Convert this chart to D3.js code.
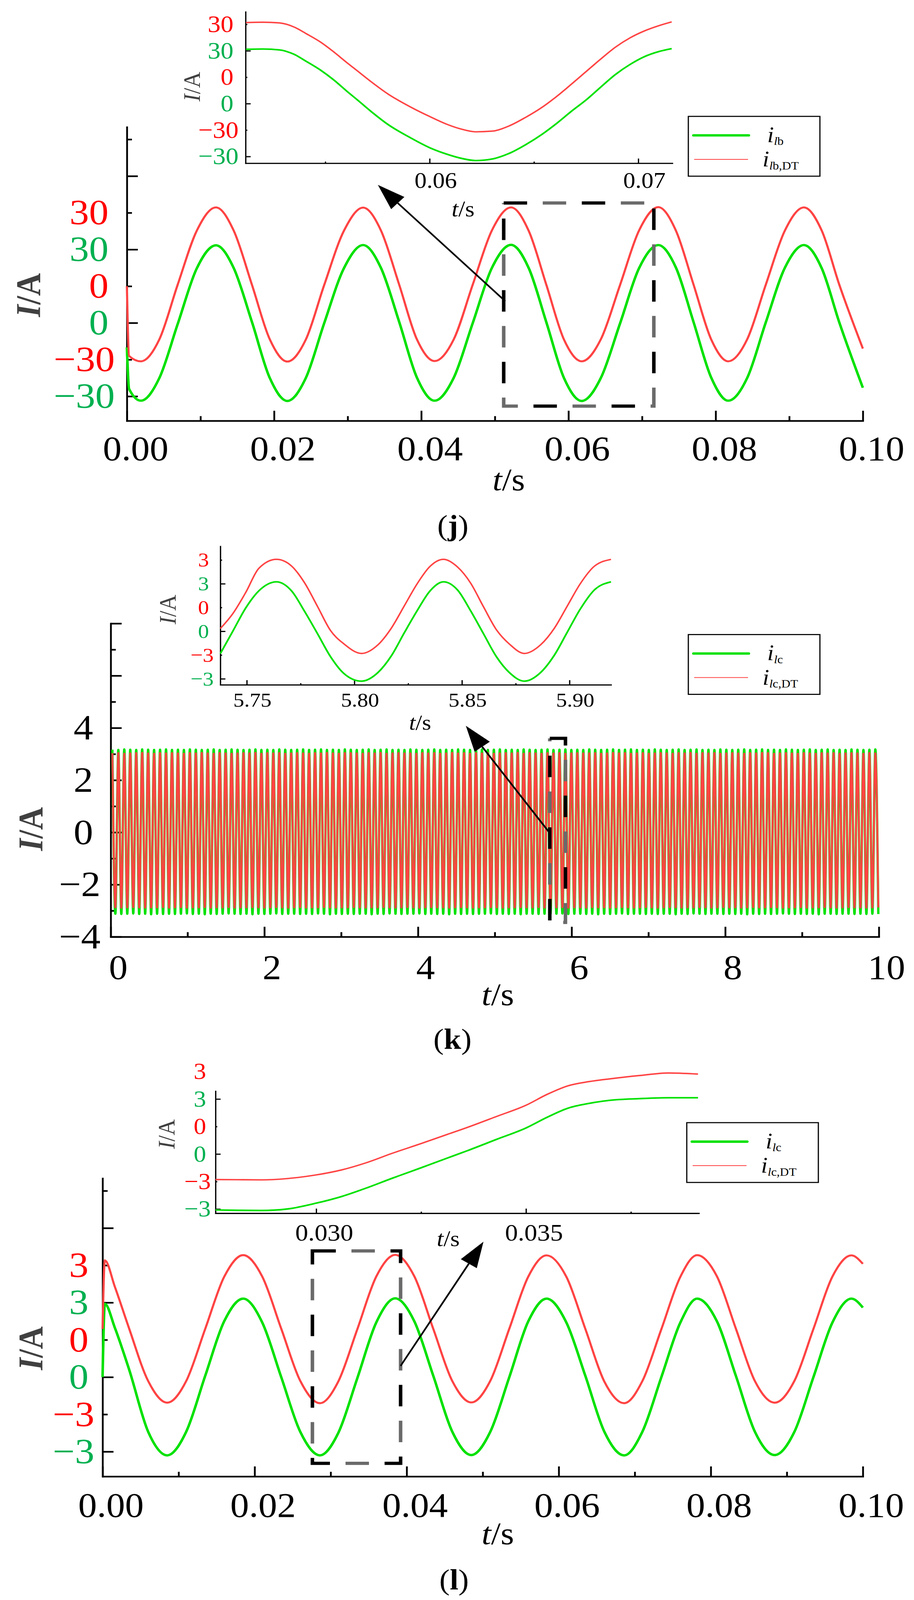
<!DOCTYPE html>
<html>
<head>
<meta charset="utf-8">
<script src="https://cdn.jsdelivr.net/npm/d3@7"></script>
<style>
  html, body { margin: 0; padding: 0; background: #fff; overflow: hidden; }
  svg { display: block; }
</style>
</head>
<body>
<script>
// ---------- (j) phase b current ----------
const jTime = [0, 0.0003, 0.0019, 0.0044, 0.0069, 0.0095, 0.0121, 0.0145, 0.0170, 0.0194, 0.0218,
  0.0243, 0.0268, 0.0295, 0.0321, 0.0345, 0.0370, 0.0394, 0.0418, 0.0444, 0.0470, 0.0496, 0.0522,
  0.0546, 0.0570, 0.0594, 0.0618, 0.0644, 0.0670, 0.0696, 0.0722, 0.0746, 0.0770, 0.0794, 0.0817,
  0.0843, 0.0868, 0.0894, 0.0920, 0.0944, 0.0968, 0.1000];
const jGreen = [-10, -27, -31.8, -22.6, -0.5, 22.3, 31.7, 22.5, 0.3, -22.4, -31.9, -22.6, -0.2, 22.4,
  31.8, 22.6, 0.4, -22.3, -31.8, -22.5, 0.0, 22.5, 31.9, 22.4, 0.2, -22.6, -31.9, -22.5, -0.3, 22.4,
  31.8, 22.6, 0.3, -22.4, -31.8, -22.4, 0.1, 22.5, 31.8, 22.4, 0.2, -26.5];
const jRed = [0, -28.5, -30.7, -21.8, 0.6, 22.7, 32.2, 22.8, 0.5, -21.6, -30.8, -21.9, 0.4, 22.7,
  32.1, 22.9, 0.6, -21.7, -30.6, -21.8, 0.7, 22.8, 32.2, 22.6, 0.5, -21.9, -30.7, -21.7, 0.4, 22.8,
  32.3, 22.7, 0.6, -21.8, -30.7, -21.6, 0.5, 22.7, 32.2, 22.8, 0.6, -25.5];
const jZoomTime = [0.0512, 0.0520, 0.0528, 0.0535, 0.0541, 0.0548, 0.0554, 0.0560, 0.0566, 0.0572,
  0.0580, 0.0591, 0.0600, 0.0608, 0.0615, 0.0622, 0.0630, 0.0638, 0.0646, 0.0654, 0.0661, 0.0668,
  0.0675, 0.0682, 0.0689, 0.0696, 0.0703, 0.0710, 0.0716];
const jZoomGreen = [30.8, 31.0, 30.5, 28.0, 23.9, 18.8, 13.5, 7.4, 1.5, -4.5, -11.8, -19.5, -25.0,
  -28.6, -31.0, -32.3, -31.4, -28.3, -23.3, -17.3, -11.1, -4.3, 2.1, 9.4, 16.5, 22.2, 26.7, 29.6, 31.2];
const jZoomRed = [31.0, 31.2, 30.8, 28.5, 24.6, 19.7, 14.4, 8.6, 3.0, -2.6, -9.5, -17.0, -22.3,
  -26.6, -29.4, -31.0, -30.6, -27.7, -22.8, -17.0, -10.8, -3.9, 3.2, 10.3, 17.0, 22.3, 26.3, 29.3, 31.4];
const jRedShift = 15;   // red trace is drawn one tick step above the green one
const jYTicks = [-30, -15, 0, 15, 30, 45, 60, 75];
const jYLabels = ["−30", "−30", "0", "0", "30", "30", "", ""];
const jZoomYTicks = [-30, -15, 0, 15, 30, 45];
const jZoomYLabels = ["−30", "−30", "0", "0", "30", "30"];
const jZoomXTicks = [0.055, 0.06, 0.065, 0.07];
const jZoomXLabels = ["", "0.06", "", "0.07"];

// ---------- (k) phase c current, 0-10 s ----------
// peak / trough values of every half cycle, first peak at 0.0214 s, last trough at 9.993 s
const kExtremaSpan = [0.0214, 9.993];
const kGreenExt = [
  3.17,-3.12,3.16,-3.13,3.18,-3.12,3.17,-3.11,3.16,-3.13,3.18,-3.12,3.17,-3.14,3.16,-3.12,3.17,-3.13,3.18,-3.12,
  3.16,-3.13,3.17,-3.12,3.16,-3.11,3.18,-3.13,3.17,-3.12,3.16,-3.14,3.17,-3.12,3.18,-3.13,3.16,-3.12,3.17,-3.11,
  3.18,-3.12,3.17,-3.13,3.16,-3.12,3.17,-3.14,3.18,-3.12,3.16,-3.13,3.17,-3.12,3.16,-3.11,3.18,-3.13,3.17,-3.12,
  3.16,-3.12,3.17,-3.13,3.18,-3.12,3.16,-3.13,3.17,-3.11,3.18,-3.12,3.16,-3.14,3.17,-3.12,3.16,-3.13,3.18,-3.12,
  3.17,-3.13,3.16,-3.12,3.17,-3.12,3.18,-3.14,3.16,-3.12,3.17,-3.13,3.18,-3.11,3.16,-3.12,3.17,-3.13,3.16,-3.12,
  3.18,-3.12,3.17,-3.11,3.16,-3.13,3.17,-3.12,3.18,-3.13,3.16,-3.12,3.17,-3.14,3.16,-3.12,3.18,-3.13,3.17,-3.12,
  3.16,-3.13,3.17,-3.12,3.18,-3.12,3.16,-3.11,3.17,-3.13,3.18,-3.12,3.16,-3.13,3.17,-3.12,3.16,-3.14,3.18,-3.12,
  3.17,-3.12,3.16,-3.13,3.17,-3.12,3.18,-3.13,3.16,-3.12,3.17,-3.11,3.18,-3.13,3.16,-3.12,3.17,-3.12,3.16,-3.13,
  3.18,-3.12,3.17,-3.14,3.16,-3.12,3.17,-3.13,3.18,-3.12,3.16,-3.11,3.17,-3.13,3.18,-3.12,3.16,-3.12,3.17,-3.13,
  3.16,-3.12,3.18,-3.13,3.17,-3.12,3.16,-3.12,3.17,-3.14,3.18,-3.12,3.16,-3.13,3.17,-3.11,3.18,-3.12,3.16,-3.13,
  3.17,-3.12,3.16,-3.12,3.18,-3.13,3.17,-3.12,3.16,-3.13,3.17,-3.12,3.18,-3.14,3.16,-3.12,3.17,-3.13,3.18,-3.12,
  3.16,-3.13,3.17,-3.12,3.16,-3.11,3.18,-3.12,3.17,-3.13,3.16,-3.12,3.17,-3.13,3.18,-3.12,3.16,-3.14,3.17,-3.12,
  3.18,-3.12,3.16,-3.13,3.17,-3.12,3.16,-3.12,3.18,-3.13,3.17,-3.12,3.16,-3.13,3.17,-3.12,3.18,-3.13];
const kRedExt = [
  3.03,-2.88,3.04,-2.89,3.02,-2.88,3.03,-2.87,3.04,-2.88,3.05,-2.89,3.03,-2.88,3.02,-2.88,3.04,-2.87,3.03,-2.89,
  3.04,-2.88,3.03,-2.87,3.02,-2.89,3.04,-2.88,3.03,-2.88,3.05,-2.87,3.03,-2.89,3.02,-2.88,3.04,-2.88,3.03,-2.87,
  3.02,-2.89,3.03,-2.88,3.04,-2.88,3.03,-2.87,3.05,-2.88,3.02,-2.89,3.04,-2.88,3.03,-2.87,3.04,-2.88,3.02,-2.89,
  3.03,-2.88,3.04,-2.87,3.03,-2.89,3.02,-2.88,3.04,-2.88,3.03,-2.87,3.05,-2.88,3.03,-2.89,3.02,-2.88,3.04,-2.88,
  3.04,-2.87,3.03,-2.88,3.02,-2.89,3.04,-2.88,3.03,-2.88,3.05,-2.87,3.02,-2.88,3.03,-2.89,3.04,-2.88,3.03,-2.87,
  3.03,-2.88,3.02,-2.89,3.04,-2.88,3.03,-2.87,3.04,-2.88,3.02,-2.88,3.03,-2.89,3.05,-2.88,3.03,-2.87,3.04,-2.88,
  3.02,-2.89,3.04,-2.88,3.03,-2.88,3.04,-2.87,3.02,-2.88,3.03,-2.89,3.04,-2.88,3.03,-2.88,3.05,-2.87,3.02,-2.88,
  3.04,-2.88,3.03,-2.87,3.02,-2.89,3.04,-2.88,3.03,-2.88,3.04,-2.87,3.02,-2.89,3.03,-2.88,3.04,-2.88,3.03,-2.89,
  3.03,-2.87,3.04,-2.88,3.02,-2.88,3.03,-2.89,3.05,-2.88,3.03,-2.87,3.04,-2.88,3.02,-2.89,3.03,-2.88,3.04,-2.87,
  3.02,-2.88,3.03,-2.89,3.04,-2.88,3.03,-2.87,3.02,-2.88,3.04,-2.89,3.03,-2.88,3.05,-2.88,3.02,-2.87,3.04,-2.88,
  3.03,-2.89,3.04,-2.88,3.02,-2.87,3.03,-2.88,3.04,-2.88,3.03,-2.89,3.02,-2.88,3.04,-2.87,3.03,-2.88,3.05,-2.88,
  3.04,-2.87,3.02,-2.88,3.03,-2.89,3.04,-2.88,3.03,-2.88,3.02,-2.87,3.04,-2.89,3.03,-2.88,3.02,-2.88,3.04,-2.87,
  3.03,-2.88,3.04,-2.89,3.02,-2.88,3.03,-2.87,3.04,-2.88,3.03,-2.88,3.02,-2.89,3.04,-2.88,3.03,-2.88];
const kZoomTime = [5.7377, 5.7435, 5.7496, 5.7556, 5.7638, 5.7708, 5.7768, 5.7829, 5.7889, 5.7950,
  5.8033, 5.8110, 5.8172, 5.8232, 5.8292, 5.8352, 5.8414, 5.8480, 5.8540, 5.8600, 5.8660, 5.8720,
  5.8790, 5.8866, 5.8930, 5.8990, 5.9050, 5.9115, 5.9193];
const kZoomGreen = [-1.41, 0.0, 1.49, 2.55, 3.12, 2.55, 1.27, -0.16, -1.6, -2.65, -3.15, -2.6, -1.55,
  -0.1, 1.3, 2.55, 3.12, 2.6, 1.3, -0.15, -1.6, -2.6, -3.15, -2.6, -1.5, -0.05, 1.4, 2.6, 3.12];
const kZoomRed = [-1.33, -0.39, 0.97, 2.47, 3.04, 2.62, 1.57, 0.06, -1.45, -2.28, -2.9, -2.35, -1.3,
  0.1, 1.5, 2.6, 3.04, 2.55, 1.55, 0.05, -1.4, -2.3, -2.9, -2.35, -1.3, 0.1, 1.5, 2.6, 3.04];
const kZoomRedShift = 1.5;
const kXTicks = [0, 1, 2, 3, 4, 5, 6, 7, 8, 9, 10];
const kXLabels = ["0", "", "2", "", "4", "", "6", "", "8", "", "10"];
const kYTicks = [-4, -3, -2, -1, 0, 1, 2, 3, 4, 5, 6, 7, 8];
const kYLabels = ["−4", "", "−2", "", "0", "", "2", "", "4", "", "", "", ""];
const kZoomYTicks = [-3, -1.5, 0, 1.5, 3, 4.5];
const kZoomYLabels = ["−3", "−3", "0", "0", "3", "3"];
const kZoomXTicks = [5.75, 5.775, 5.8, 5.825, 5.85, 5.875, 5.9];
const kZoomXLabels = ["5.75", "", "5.80", "", "5.85", "", "5.90"];

// ---------- (l) phase c current, 0-0.1 s ----------
const lTime = [0, 0.0003, 0.0016, 0.0035, 0.0060, 0.0085, 0.0110, 0.0135, 0.0160, 0.0185, 0.0210,
  0.0235, 0.0260, 0.0286, 0.0310, 0.0335, 0.0360, 0.0385, 0.0410, 0.0435, 0.0460, 0.0485, 0.0510,
  0.0535, 0.0560, 0.0584, 0.0610, 0.0635, 0.0660, 0.0686, 0.0710, 0.0735, 0.0760, 0.0782, 0.0808,
  0.0833, 0.0858, 0.0884, 0.0910, 0.0935, 0.0960, 0.0985, 0.1000];
const lGreen = [0.0, 2.95, 2.0, 0.3, -2.2, -3.15, -2.2, 0.05, 2.25, 3.16, 2.2, 0.0, -2.2, -3.15,
  -2.25, -0.05, 2.2, 3.17, 2.25, 0.05, -2.2, -3.14, -2.2, 0.0, 2.25, 3.16, 2.2, 0.05, -2.2, -3.15,
  -2.2, 0.0, 2.2, 3.16, 2.25, 0.05, -2.2, -3.14, -2.2, 0.0, 2.2, 3.16, 2.8];
const lRed = [0.44, 3.2, 2.15, 0.45, -1.66, -2.53, -1.66, 0.44, 2.54, 3.41, 2.55, 0.45, -1.65, -2.55,
  -1.68, 0.42, 2.55, 3.42, 2.56, 0.44, -1.66, -2.52, -1.65, 0.45, 2.55, 3.40, 2.54, 0.44, -1.68, -2.55,
  -1.66, 0.43, 2.54, 3.41, 2.56, 0.45, -1.66, -2.53, -1.65, 0.44, 2.55, 3.40, 3.06];
const lZoomTime = [0.0276, 0.0281, 0.0287, 0.0293, 0.0300, 0.0306, 0.0312, 0.0318, 0.0325, 0.0331,
  0.0336, 0.0343, 0.0350, 0.0355, 0.0360, 0.0365, 0.0370, 0.0377, 0.0384, 0.0391];
const lZoomGreen = [-3.05, -3.07, -3.08, -3.00, -2.68, -2.32, -1.85, -1.33, -0.75, -0.24, 0.18, 0.80,
  1.42, 2.00, 2.50, 2.76, 2.93, 3.02, 3.07, 3.07];
const lZoomRed = [-2.89, -2.90, -2.91, -2.84, -2.64, -2.37, -1.97, -1.47, -0.93, -0.45, -0.05, 0.55,
  1.16, 1.75, 2.22, 2.45, 2.60, 2.78, 2.92, 2.86];
const lRedShift = 1.5;
const lYTicks = [-3, -1.5, 0, 1.5, 3, 4.5, 6, 7.5];
const lYLabels = ["−3", "−3", "0", "0", "3", "3", "", ""];
const lZoomYTicks = [-3, -1.5, 0, 1.5, 3, 4.5];
const lZoomYLabels = ["−3", "−3", "0", "0", "3", "3"];
const lZoomXTicks = [0.03, 0.0325, 0.035, 0.0375];
const lZoomXLabels = ["0.030", "", "0.035", ""];

// shared by (j) and (l)
const shortXTicks = [0, 0.01, 0.02, 0.03, 0.04, 0.05, 0.06, 0.07, 0.08, 0.09, 0.1];
const shortXLabels = ["0.00", "", "0.02", "", "0.04", "", "0.06", "", "0.08", "", "0.10"];
const pairSeries = ["g", "r", "g", "r", "g", "r", "", ""];   // which trace a y label belongs to

const FONT = "'Liberation Serif', 'Times New Roman', serif";
const GREEN_LINE = "#00e100", RED_LINE = "#ff4343";
const LABEL_COLOR = {g: "#00b050", r: "#ff0000", "": "#000"};
const TITLE_GRAY = "#404040";

// the figure is laid out on a 2341 x 4468 grid and stretched to whatever the window shows
const W = 2341, H = 4468;
const svg = d3.select("body").append("svg")
    .attr("width", window.innerWidth || W)
    .attr("height", window.innerHeight || H)
    .attr("viewBox", [0, 0, W, H])
    .attr("preserveAspectRatio", "none");
svg.append("rect").attr("width", W).attr("height", H).attr("fill", "#fff");

const near = (a, b) => Math.abs(a - b) < 1e-6;
const isMajor = (d, step) => near(d / step, Math.round(d / step));

// left + bottom axes with inward ticks, Origin style
function frame(g, x, y, o) {
  const [y0, y1] = y.domain();
  const yAxis = d3.axisLeft(y)
      .tickValues(o.yTicks)
      .tickSize(0)
      .tickSizeOuter(0)
      .tickPadding(o.yPad)
      .tickFormat((d, i) => o.yLabels[i]);
  const gy = g.append("g")
      .attr("transform", `translate(${x.range()[0]},0)`)
      .call(yAxis)
      .attr("font-family", FONT)
      .attr("font-size", o.yFont);
  gy.select(".domain").attr("stroke-width", o.lw).attr("stroke-linecap", "square");
  gy.selectAll(".tick line")
      .attr("stroke-width", o.lw)
      .attr("x2", d => (d < y0 - 1e-6 || d > y1 + 1e-6) ? 0 : (isMajor(d, o.yMajor) ? o.major : o.minor));
  gy.selectAll(".tick text")
      .attr("fill", (d, i) => LABEL_COLOR[(o.ySeries || [])[i] || ""])
      .attr("x", (d, i) => o.yLabels[i].startsWith("−") ? -o.yPadNeg : -o.yPad);

  const xAxis = d3.axisBottom(x)
      .tickValues(o.xTicks)
      .tickSize(0)
      .tickSizeOuter(0)
      .tickPadding(o.xPad)
      .tickFormat((d, i) => o.xLabels[i]);
  const gx = g.append("g")
      .attr("transform", `translate(0,${y.range()[0]})`)
      .call(xAxis)
      .attr("font-family", FONT)
      .attr("font-size", o.xFont);
  gx.select(".domain").attr("stroke-width", o.lw).attr("stroke-linecap", "square");
  gx.selectAll(".tick line")
      .attr("stroke-width", o.lw)
      .attr("y2", d => -(isMajor(d, o.xMajor) ? o.major : o.minor));
  gx.selectAll(".tick text").attr("x", o.xShift).attr("fill", "#000");
}

function trace(g, x, y, t, v, shift, color, width) {
  const line = d3.line()
      .x((d, i) => x(t[i]))
      .y(d => y(d + shift))
      .curve(d3.curveMonotoneX);
  g.append("path")
      .datum(v)
      .attr("fill", "none")
      .attr("stroke", color)
      .attr("stroke-width", width)
      .attr("stroke-linejoin", "round")
      .attr("d", line);
}

function yTitle(g, bx, cy, size, bold) {
  const t = g.append("text")
      .attr("transform", `translate(${bx},${cy}) rotate(-90)`)
      .attr("text-anchor", "middle")
      .attr("font-family", FONT)
      .attr("font-size", size)
      .attr("font-weight", bold ? "bold" : "normal")
      .attr("fill", TITLE_GRAY);
  t.append("tspan").attr("font-style", "italic").text("I");
  t.append("tspan").text("/A");
}

function xTitle(g, cx, by, size) {
  const t = g.append("text")
      .attr("x", cx).attr("y", by)
      .attr("text-anchor", "middle")
      .attr("font-family", FONT)
      .attr("font-size", size);
  t.append("tspan").attr("font-style", "italic").text("t");
  t.append("tspan").text("/s");
}

// dashed window over the zoomed range plus the arrow pointing to the inset
function zoomMark(g, x, y, box, from, to) {
  const rect = (color, offset) => g.append("rect")
      .attr("x", x(box.t[0]))
      .attr("y", y(box.v[1]))
      .attr("width", x(box.t[1]) - x(box.t[0]))
      .attr("height", y(box.v[0]) - y(box.v[1]))
      .attr("fill", "none")
      .attr("stroke", color)
      .attr("stroke-width", 9)
      .attr("stroke-dasharray", "60 140")
      .attr("stroke-dashoffset", offset);
  rect("#6a6a6a", -100);   // alternate dashes are printed grey in the figure
  rect("#000", 0);
  const x1 = x(from[0]), y1 = y(from[1]), x2 = x(to[0]), y2 = y(to[1]);
  const a = Math.atan2(y2 - y1, x2 - x1), len = 72, half = 24;
  const bx = x2 - len * Math.cos(a), by = y2 - len * Math.sin(a);
  g.append("line")
      .attr("x1", x1).attr("y1", y1).attr("x2", bx).attr("y2", by)
      .attr("stroke", "#000").attr("stroke-width", 4.5);
  g.append("path")
      .attr("d", d3.line()([[x2, y2],
        [bx - half * Math.sin(a), by + half * Math.cos(a)],
        [bx + half * Math.sin(a), by - half * Math.cos(a)]]) + "Z")
      .attr("fill", "#000");
}

function legend(g, bx, by, sub) {
  g.append("rect")
      .attr("x", bx).attr("y", by).attr("width", 337).attr("height", 167)
      .attr("fill", "#fff").attr("stroke", "#000").attr("stroke-width", 3);
  g.append("line")
      .attr("x1", bx + 13).attr("x2", bx + 155).attr("y1", by + 53).attr("y2", by + 53)
      .attr("stroke", GREEN_LINE).attr("stroke-width", 6.7).attr("stroke-linecap", "round");
  g.append("line")
      .attr("x1", bx + 15).attr("x2", bx + 153).attr("y1", by + 120).attr("y2", by + 120)
      .attr("stroke", RED_LINE).attr("stroke-width", 2.3);
  [[202, 72, sub], [190, 140, sub + ",DT"]].forEach(([dx, dy, rest]) => {
    const t = g.append("text")
        .attr("x", bx + dx).attr("y", by + dy)
        .attr("font-family", FONT).attr("font-size", 62);
    t.append("tspan").attr("font-style", "italic").text("i");
    t.append("tspan").attr("font-size", 32).attr("dy", 8).attr("font-style", "italic").text("l");
    t.append("tspan").attr("font-size", 32).text(rest);
  });
}

function caption(g, cx, by, letter) {
  const t = g.append("text")
      .attr("x", cx).attr("y", by)
      .attr("text-anchor", "middle")
      .attr("font-family", FONT)
      .attr("font-size", 80);
  t.append("tspan").text("(");
  t.append("tspan").attr("font-weight", "bold").text(letter);
  t.append("tspan").text(")");
}

const MAIN = {lw: 4.6, major: 28, minor: 13, yFont: 100, xFont: 96};
const INSET = {lw: 3.3, major: 13, minor: 4.5};

// ================= (j) =================
{
  const g = svg.append("g");
  const x = d3.scaleLinear([0, 0.1], [325, 2210]);
  const y = d3.scaleLinear([-40, 80], [1175, 355]);
  frame(g, x, y, {...MAIN, yTicks: jYTicks, yLabels: jYLabels, ySeries: pairSeries, yMajor: 30,
    yPad: 47, yPadNeg: 31, xTicks: shortXTicks, xLabels: shortXLabels, xMajor: 0.02, xPad: 42, xShift: 22});
  trace(g, x, y, jTime, jGreen, 0, GREEN_LINE, 6.5);
  trace(g, x, y, jTime, jRed, jRedShift, RED_LINE, 5.5);
  zoomMark(g, x, y, {t: [0.0512, 0.0716], v: [-34, 49]}, [0.0514, 8.9], [0.0341, 56.4]);
  yTitle(g, 102, 824, 88, true);
  xTitle(g, 1303, 1369, 88);

  const xi = d3.scaleLinear([0.05118, 0.07163], [629, 1722]);
  const yi = d3.scaleLinear([-33.8, 52.1], [455.7, 33]);
  frame(g, xi, yi, {...INSET, yTicks: jZoomYTicks, yLabels: jZoomYLabels, ySeries: pairSeries, yMajor: 30,
    yFont: 66, yPad: 31, yPadNeg: 18, xTicks: jZoomXTicks, xLabels: jZoomXLabels, xMajor: 0.01,
    xFont: 62, xPad: 25, xShift: 15});
  trace(g, xi, yi, jZoomTime, jZoomGreen, 0, GREEN_LINE, 4.5);
  trace(g, xi, yi, jZoomTime, jZoomRed, jRedShift, RED_LINE, 4);
  yTitle(g, 512, 242, 62, false);
  xTitle(g, 1186, 604, 62);

  legend(g, 1763, 325, "b");
  caption(g, 1160, 1494, "j");
}

// ================= (k) =================
{
  const g = svg.append("g");
  const x = d3.scaleLinear([0, 10], [283.6, 2251]);
  const y = d3.scaleLinear([-4, 8], [2616, 1741]);
  frame(g, x, y, {...MAIN, yTicks: kYTicks, yLabels: kYLabels, yMajor: 2, yPad: 45, yPadNeg: 26,
    xTicks: kXTicks, xLabels: kXLabels, xMajor: 2, xPad: 49, xShift: 19});
  // extrema are one half cycle apart
  const kTimes = d3.scaleLinear([0, kGreenExt.length - 1], kExtremaSpan);
  const kT = kGreenExt.map((d, i) => kTimes(i));
  trace(g, x, y, kT, kGreenExt, 0, GREEN_LINE, 6);
  trace(g, x, y, kT, kRedExt, 0, RED_LINE, 5);
  zoomMark(g, x, y, {t: [5.716, 5.92], v: [-3.45, 3.6]}, [5.727, -0.07], [4.623, 4.08]);
  yTitle(g, 108, 2315, 88, true);
  xTitle(g, 1275, 2807, 88);

  const xi = d3.scaleLinear([5.7377, 5.9193], [564.3, 1565]);
  const yi = d3.scaleLinear([-3.38, 5.36], [1912.3, 1525.7]);
  frame(g, xi, yi, {...INSET, yTicks: kZoomYTicks, yLabels: kZoomYLabels, ySeries: pairSeries, yMajor: 3,
    yFont: 56, yPad: 29, yPadNeg: 17, xTicks: kZoomXTicks, xLabels: kZoomXLabels, xMajor: 0.05,
    xFont: 56, xPad: 21, xShift: 14});
  trace(g, xi, yi, kZoomTime, kZoomGreen, 0, GREEN_LINE, 4.5);
  trace(g, xi, yi, kZoomTime, kZoomRed, kZoomRedShift, RED_LINE, 4);
  yTitle(g, 450, 1702, 62, false);
  xTitle(g, 1076, 2038, 60);

  legend(g, 1763, 1772, "c");
  caption(g, 1159, 2929, "k");
}

// ================= (l) =================
{
  const g = svg.append("g");
  const x = d3.scaleLinear([0, 0.1], [262.7, 2210]);
  const y = d3.scaleLinear([-4, 8], [4123, 3290.6]);
  frame(g, x, y, {...MAIN, yTicks: lYTicks, yLabels: lYLabels, ySeries: pairSeries, yMajor: 3,
    yPad: 36, yPadNeg: 21, xTicks: shortXTicks, xLabels: shortXLabels, xMajor: 0.02, xPad: 45, xShift: 21});
  trace(g, x, y, lTime, lGreen, 0, GREEN_LINE, 6.5);
  trace(g, x, y, lTime, lRed, lRedShift, RED_LINE, 5.5);
  zoomMark(g, x, y, {t: [0.0276, 0.0392], v: [-3.47, 5.08]}, [0.0392, 0.45], [0.0501, 5.45]);
  yTitle(g, 108, 3765, 88, true);
  xTitle(g, 1275, 4312, 88);

  const xi = d3.scaleLinear([0.0276, 0.03912], [552, 1790]);
  const yi = d3.scaleLinear([-3.23, 3.43], [3388, 3047]);
  frame(g, xi, yi, {...INSET, yTicks: lZoomYTicks, yLabels: lZoomYLabels, ySeries: pairSeries, yMajor: 3,
    yFont: 64, yPad: 24, yPadNeg: 12, xTicks: lZoomXTicks, xLabels: lZoomXLabels, xMajor: 0.005,
    xFont: 66, xPad: 30, xShift: 20});
  trace(g, xi, yi, lZoomTime, lZoomGreen, 0, GREEN_LINE, 4.5);
  trace(g, xi, yi, lZoomTime, lZoomRed, lRedShift, RED_LINE, 4);
  yTitle(g, 447, 3167, 62, false);
  xTitle(g, 1148, 3480, 62);

  legend(g, 1759, 3135, "c");
  caption(g, 1163, 4439, "l");
}
</script>
</body>
</html>
